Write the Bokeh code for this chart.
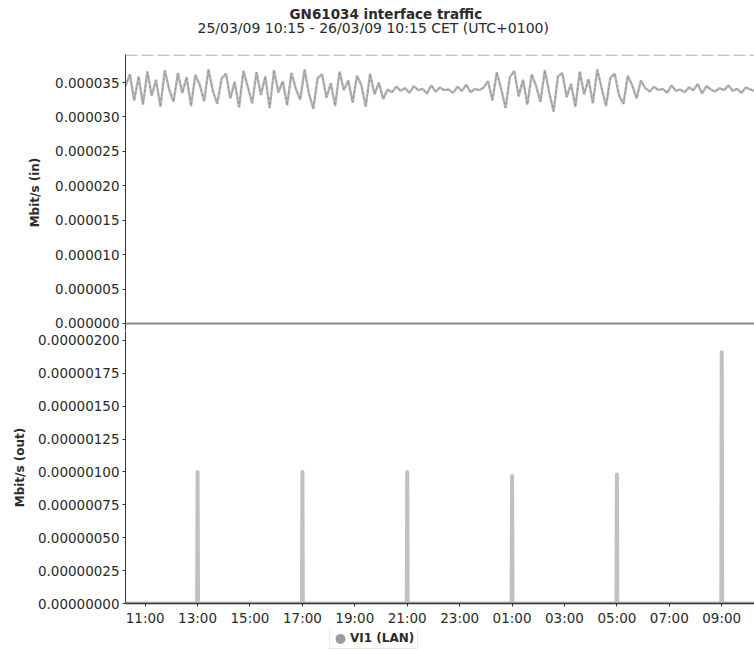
from datetime import datetime, timedelta

from bokeh.plotting import figure
from bokeh.layouts import column
from bokeh.models import (Range1d, FixedTicker, PrintfTickFormatter, DatetimeTickFormatter,
                          Title, Legend, LegendItem, Span)
from bokeh.embed import file_html
from bokeh.resources import INLINE

# ---------------- data ----------------
TITLE = "GN61034 interface traffic"
SUBTITLE = "25/03/09 10:15 - 26/03/09 10:15 CET (UTC+0100)"
SERIES_NAME = "VI1 (LAN)"
Y_IN_LABEL = "Mbit/s (in)"
Y_OUT_LABEL = "Mbit/s (out)"

period_start = datetime(2009, 3, 25, 10, 15)
period_end = datetime(2009, 3, 26, 10, 15)
sample_minutes = 10

# inbound traffic (Mbit/s), one value every 10 minutes from 10:15
in_values = [
    # 10:15 - 20:05 busy period
    34.5e-6, 36.2e-6, 32.4e-6, 35.9e-6, 31.8e-6, 36.6e-6,
    33.1e-6, 35.4e-6, 31.5e-6, 36.8e-6, 34.0e-6, 32.2e-6,
    36.4e-6, 33.5e-6, 35.8e-6, 31.6e-6, 36.1e-6, 34.7e-6,
    32.3e-6, 36.9e-6, 33.8e-6, 31.9e-6, 35.6e-6, 36.3e-6,
    32.7e-6, 35.1e-6, 31.4e-6, 36.7e-6, 34.4e-6, 32.0e-6,
    36.5e-6, 33.2e-6, 35.9e-6, 31.3e-6, 36.8e-6, 33.6e-6,
    35.2e-6, 31.7e-6, 36.4e-6, 34.1e-6, 32.5e-6, 36.9e-6,
    33.4e-6, 31.2e-6, 35.7e-6, 36.2e-6, 32.8e-6, 34.9e-6,
    31.6e-6, 36.6e-6, 33.9e-6, 35.3e-6, 32.1e-6, 36.0e-6,
    34.6e-6, 31.5e-6, 36.3e-6, 33.3e-6, 35.0e-6, 32.6e-6,
    # 20:15 - 00:05 quiet period
    34.0e-6, 33.6e-6, 34.4e-6, 33.8e-6, 34.2e-6, 33.5e-6,
    34.5e-6, 33.9e-6, 34.1e-6, 33.4e-6, 34.6e-6, 33.7e-6,
    34.3e-6, 33.9e-6, 34.0e-6, 33.5e-6, 34.4e-6, 33.8e-6,
    34.7e-6, 33.6e-6, 34.1e-6, 33.9e-6, 34.3e-6, 35.2e-6,
    # 00:15 - 05:55 busy period
    32.4e-6, 36.5e-6, 34.1e-6, 31.3e-6, 35.8e-6, 36.7e-6,
    33.0e-6, 35.4e-6, 31.8e-6, 36.2e-6, 34.5e-6, 32.2e-6,
    36.8e-6, 33.6e-6, 30.8e-6, 35.9e-6, 36.4e-6, 32.9e-6,
    34.8e-6, 31.5e-6, 36.6e-6, 33.3e-6, 35.5e-6, 32.0e-6,
    36.9e-6, 34.2e-6, 31.6e-6, 35.7e-6, 36.3e-6, 33.1e-6,
    31.9e-6, 36.0e-6, 34.6e-6, 32.7e-6, 35.3e-6,
    # 06:05 - 10:15 quiet period
    34.2e-6, 33.7e-6, 34.4e-6, 33.9e-6, 34.1e-6, 33.5e-6,
    34.6e-6, 33.8e-6, 34.0e-6, 33.6e-6, 34.3e-6, 33.9e-6,
    34.8e-6, 33.4e-6, 34.5e-6, 34.0e-6, 33.7e-6, 34.2e-6,
    33.9e-6, 34.6e-6, 33.8e-6, 34.1e-6, 33.5e-6, 34.3e-6,
    34.0e-6, 33.8e-6,
]
in_times = [period_start + timedelta(minutes=sample_minutes * i) for i in range(len(in_values))]

# outbound traffic (Mbit/s): flat zero with short bursts
out_times = [
    "2009-03-25 10:15",
    "2009-03-25 12:59", "2009-03-25 13:00", "2009-03-25 13:01",
    "2009-03-25 16:59", "2009-03-25 17:00", "2009-03-25 17:01",
    "2009-03-25 20:59", "2009-03-25 21:00", "2009-03-25 21:01",
    "2009-03-26 00:59", "2009-03-26 01:00", "2009-03-26 01:01",
    "2009-03-26 04:59", "2009-03-26 05:00", "2009-03-26 05:01",
    "2009-03-26 08:59", "2009-03-26 09:00", "2009-03-26 09:01",
    "2009-03-26 10:15",
]
out_values = [
    0.0,
    0.0, 1.00e-6, 0.0,
    0.0, 1.00e-6, 0.0,
    0.0, 1.00e-6, 0.0,
    0.0, 0.97e-6, 0.0,
    0.0, 0.98e-6, 0.0,
    0.0, 1.91e-6, 0.0,
    0.0,
]

x_tick_times = [
    "2009-03-25 11:00", "2009-03-25 13:00", "2009-03-25 15:00", "2009-03-25 17:00",
    "2009-03-25 19:00", "2009-03-25 21:00", "2009-03-25 23:00", "2009-03-26 01:00",
    "2009-03-26 03:00", "2009-03-26 05:00", "2009-03-26 07:00", "2009-03-26 09:00",
]
y_in_ticks = [0.0, 5e-6, 10e-6, 15e-6, 20e-6, 25e-6, 30e-6, 35e-6]
y_out_ticks = [0.0, 0.25e-6, 0.50e-6, 0.75e-6, 1.00e-6, 1.25e-6, 1.50e-6, 1.75e-6, 2.00e-6]

# ---------------- helpers ----------------
EPOCH = datetime(1970, 1, 1)


def to_ms(d):
    if isinstance(d, str):
        d = datetime.strptime(d, "%Y-%m-%d %H:%M")
    return (d - EPOCH).total_seconds() * 1000.0


FONT = "DejaVu Sans"
TXT = "#2a2a2a"
SERIES_COLOR = "#b4b4b4"
TICK_FS = "13.5px"

x_range = Range1d(to_ms(period_start), to_ms(period_end))


def style_common(p):
    p.grid.visible = False
    p.outline_line_color = None
    p.background_fill_color = "white"
    p.border_fill_color = "white"
    for ax in p.yaxis:
        ax.axis_line_color = "#333333"
        ax.major_tick_line_color = "#333333"
        ax.major_tick_out = 3
        ax.major_tick_in = 0
        ax.minor_tick_line_color = None
        ax.major_label_text_font = FONT
        ax.major_label_text_font_size = TICK_FS
        ax.major_label_text_color = TXT
        ax.major_label_standoff = 3
        ax.axis_label_text_font = FONT
        ax.axis_label_text_font_size = "12px"
        ax.axis_label_text_font_style = "bold"
        ax.axis_label_text_color = TXT


# ---------------- top: inbound ----------------
p1 = figure(width=754, height=331, x_range=x_range, y_range=Range1d(-1.02e-6, 39.08e-6),
            x_axis_type="datetime", x_axis_location=None, title=None,
            output_backend="svg", toolbar_location=None,
            min_border_left=125, min_border_right=0, min_border_bottom=1, min_border_top=0)
p1.line([to_ms(t) for t in in_times], in_values, line_color=SERIES_COLOR, line_width=2.4)
p1.line([to_ms(t) for t in in_times], in_values, line_color="#444444", line_width=0.8,
        line_alpha=0.4, line_dash="2 3")
p1.add_layout(Span(location=0, dimension="width", line_color="#8a8a8a", line_width=2))
p1.add_layout(Span(location=39.0e-6, dimension="width", line_color="#999999", line_width=1,
                   line_dash="12 4"))
p1.yaxis.axis_label = Y_IN_LABEL
p1.yaxis.ticker = FixedTicker(ticks=y_in_ticks)
p1.yaxis.formatter = PrintfTickFormatter(format="%.6f")
p1.yaxis.axis_label_standoff = 10
style_common(p1)

# spacer between the subtitle and the plot frame
p1.add_layout(Title(text=" ", text_font_size="1px", standoff=23), "above")
p1.add_layout(Title(text=SUBTITLE, align="left", offset=72, text_font=FONT,
                    text_font_size="14px", text_font_style="normal", text_color=TXT,
                    standoff=-14), "above")
p1.add_layout(Title(text=TITLE, align="left", offset=164, text_font=FONT,
                    text_font_size="13.5px", text_font_style="bold", text_color=TXT,
                    standoff=6), "above")

# ---------------- bottom: outbound ----------------
p2 = figure(width=754, height=297, x_range=x_range, y_range=Range1d(0, 2.068e-6),
            x_axis_type="datetime", title=None,
            output_backend="svg", toolbar_location=None,
            min_border_left=125, min_border_right=0, min_border_top=0, min_border_bottom=25)
p2.line([to_ms(t) for t in out_times], out_values, line_color="#c0c0c0",
        line_width=4, line_join="round", line_cap="round")
p2.yaxis.axis_label = Y_OUT_LABEL
p2.yaxis.ticker = FixedTicker(ticks=y_out_ticks)
p2.yaxis.formatter = PrintfTickFormatter(format="%.8f")
p2.yaxis.axis_label_standoff = 8
style_common(p2)

xa = p2.xaxis[0]
xa.ticker = FixedTicker(ticks=[to_ms(t) for t in x_tick_times])
fmt = "%H:%M"
xa.formatter = DatetimeTickFormatter(microseconds=fmt, milliseconds=fmt, seconds=fmt,
                                     minsec=fmt, minutes=fmt, hourmin=fmt, hours=fmt,
                                     days=fmt, months=fmt, years=fmt)
xa.axis_line_color = "#333333"
xa.axis_line_width = 1.5
xa.major_tick_line_color = "#333333"
xa.major_tick_out = 3
xa.major_tick_in = 0
xa.minor_tick_line_color = None
xa.major_label_text_font = FONT
xa.major_label_text_font_size = TICK_FS
xa.major_label_text_color = TXT
xa.major_label_standoff = 3

# ---------------- legend strip ----------------
p3 = figure(width=754, height=22, x_range=Range1d(0, 1), y_range=Range1d(0, 1),
            x_axis_location=None, y_axis_location=None, title=None,
            output_backend="svg", toolbar_location=None,
            min_border_left=125, min_border_right=0, min_border_top=0, min_border_bottom=0)
p3.grid.visible = False
p3.outline_line_color = None
# off-range stroke used only as the round legend swatch (a single round-capped dot)
legend_swatch = p3.line(x=[-5, -4], y=[-5, -5], line_color="#9c9c9c", line_width=10,
                        line_cap="round", line_dash="0 30", line_dash_offset=23)
legend = Legend(items=[LegendItem(label=SERIES_NAME, renderers=[legend_swatch])],
                location=(204, 1), orientation="horizontal",
                border_line_color="#d4d4d4", border_line_width=1,
                label_text_font=FONT, label_text_font_size="12px",
                label_text_font_style="bold", label_text_color=TXT,
                glyph_width=14, glyph_height=13, padding=3, spacing=0, margin=0,
                label_standoff=3, background_fill_alpha=1)
p3.add_layout(legend)

layout = column(p1, p2, p3, spacing=0)
open("out.html", "w").write(file_html(layout, INLINE))
